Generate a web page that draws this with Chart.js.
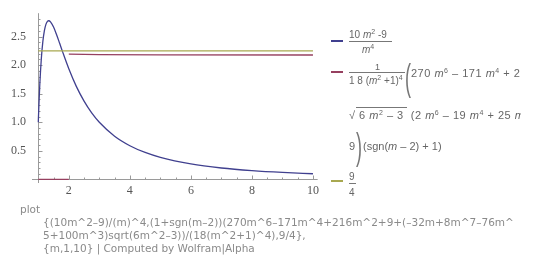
<!DOCTYPE html>
<html>
<head>
<meta charset="utf-8">
<script src="https://cdn.jsdelivr.net/npm/chart.js@4"></script>
<style>
  html, body { margin: 0; padding: 0; background: #fff; overflow: hidden; }
  body { width: 540px; height: 267px; position: relative; font-family: "Liberation Sans", Arial, sans-serif; }
  #plot { position: absolute; left: 0; top: 0; }
  #legend { position: absolute; left: 0; top: 0; width: 521px; height: 200px; overflow: hidden; }
  .sw { position: absolute; left: 331px; width: 12px; height: 2px; }
  .t { position: absolute; color: #666; white-space: nowrap; font-size: 11px; line-height: 1; }
  .t i { font-style: italic; }
  .t sup { font-size: 7px; vertical-align: 0; position: relative; top: -4px; }
  .bar { position: absolute; height: 1px; background: #777; }
  .paren { position: absolute; color: #777; font-size: 30px; line-height: 1; font-weight: 100; transform: scaleX(0.5); transform-origin: left; }
  .cap { position: absolute; color: #8a8a8a; font-family: "DejaVu Sans", sans-serif; font-size: 10.5px; white-space: nowrap; }
</style>
</head>
<body>
<canvas id="plot" width="320" height="200"></canvas>

<div id="legend">
<div class="sw" style="top:40px;background:#40408f"></div>
<div class="t" style="left:349px;top:30px;font-size:10px">10 <i>m</i><sup>2</sup> -9</div>
<div class="bar" style="left:349px;top:41px;width:43px"></div>
<div class="t" style="left:362px;top:45px;font-size:10px"><i>m</i><sup>4</sup></div>

<div class="sw" style="top:71px;background:#96405f"></div>
<div class="t" style="left:375px;top:63px;font-size:9px">1</div>
<div class="bar" style="left:349px;top:72px;width:56px"></div>
<div class="t" style="left:349px;top:76px;font-size:10px">1 8 (<i>m</i><sup>2</sup> +1)<sup>4</sup></div>
<div class="paren" style="left:405px;top:60px;font-size:36px">(</div>
<div class="t" style="left:411px;top:68px;letter-spacing:0.5px">270 <i>m</i><sup>6</sup> – 171 <i>m</i><sup>4</sup> + 216 <i>m</i><sup>2</sup> + 9</div>

<div class="t" style="left:349px;top:110px;letter-spacing:0.5px">√<span style="border-top:1px solid #777;padding-top:1px">&nbsp;6 <i>m</i><sup>2</sup> – 3&nbsp;</span> (2 <i>m</i><sup>6</sup> – 19 <i>m</i><sup>4</sup> + 25 <i>m</i><sup>2</sup> – 8)</div>
<div class="t" style="left:349px;top:141px">9</div>
<div class="paren" style="left:356px;top:129px;font-size:36px">)</div>
<div class="t" style="left:363px;top:141px">(sgn(<i>m</i> – 2) + 1)</div>

<div class="sw" style="top:180px;background:#a8a850"></div>
<div class="t" style="left:349px;top:172px;font-size:10px">9</div>
<div class="bar" style="left:349px;top:183px;width:7px"></div>
<div class="t" style="left:349px;top:188px;font-size:10px">4</div>
</div>

<div class="cap" style="left:20px;top:203px">plot</div>
<div class="cap" style="left:43px;top:216px">{(10m^2–9)/(m)^4,(1+sgn(m–2))(270m^6–171m^4+216m^2+9+(–32m+8m^7–76m^</div>
<div class="cap" style="left:43px;top:229px">5+100m^3)sqrt(6m^2–3))/(18(m^2+1)^4),9/4},</div>
<div class="cap" style="left:43px;top:242px">{m,1,10} | Computed by Wolfram|Alpha</div>

<script>
// points
const mValues = [1, 1.02, 1.05, 1.1, 1.15, 1.2, 1.25, 1.3, 1.342, 1.4, 1.5, 1.6, 1.7, 1.8, 2, 2.25, 2.5, 2.75, 3, 3.5, 4, 4.5, 5, 6, 7, 8, 9, 10];
const blueValues = [1, 1.297, 1.666, 2.117, 2.416, 2.604, 2.714, 2.766, 2.778, 2.759, 2.667, 2.533, 2.383, 2.229, 1.938, 1.624, 1.370, 1.165, 1.0, 0.756, 0.590, 0.472, 0.386, 0.271, 0.200, 0.154, 0.122, 0.099];

const redM = [1, 2, 2, 2, 3, 5, 10];
const redValues = [0, 0, null, 2.193, 2.184, 2.180, 2.178];

const yellowM = [1, 10];
const yellowValues = [2.25, 2.25];

const xTicks = [2, 4, 6, 8, 10];
const yTicks = [0.5, 1.0, 1.5, 2.0, 2.5];

const pts = (xs, ys) => xs.map((x, i) => ({ x: x, y: ys[i] }));

// axes crossing at m=1, y=0 like the original
const axesPlugin = {
    id: 'axes',
    beforeDatasetsDraw(chart) {
        const ctx = chart.ctx;
        const xs = chart.scales.x;
        const ys = chart.scales.y;
        const area = chart.chartArea;
        const x0 = Math.round(xs.getPixelForValue(1)) + 0.5;
        const y0 = Math.round(ys.getPixelForValue(0)) + 0.5;
        ctx.save();
        ctx.strokeStyle = '#9a9a9a';
        ctx.lineWidth = 1;
        ctx.beginPath();
        ctx.moveTo(area.left, y0);
        ctx.lineTo(area.right, y0);
        ctx.moveTo(x0, area.top);
        ctx.lineTo(x0, area.bottom);
        for (let v = 1.5; v <= 10.001; v += 0.5) {
            const px = Math.round(xs.getPixelForValue(v)) + 0.5;
            const len = xTicks.includes(v) ? 4 : 2;
            ctx.moveTo(px, y0);
            ctx.lineTo(px, y0 - len);
        }
        for (let k = 1; k <= 28; k++) {
            const v = k / 10;
            const py = Math.round(ys.getPixelForValue(v)) + 0.5;
            const len = k % 5 === 0 ? 4 : 2;
            ctx.moveTo(x0, py);
            ctx.lineTo(x0 + len, py);
        }
        ctx.stroke();
        ctx.restore();
    }
};

new Chart(document.getElementById('plot'), {
    type: 'line',
    data: {
        datasets: [
            {
                data: pts(yellowM, yellowValues),
                borderColor: '#a8a850',
                borderWidth: 1.3,
                pointRadius: 0
            },
            {
                data: pts(redM, redValues),
                borderColor: '#96405f',
                borderWidth: 1.3,
                pointRadius: 0,
                spanGaps: false
            },
            {
                data: pts(mValues, blueValues),
                borderColor: '#40408f',
                borderWidth: 1.3,
                pointRadius: 0,
                cubicInterpolationMode: 'monotone'
            }
        ]
    },
    plugins: [axesPlugin],
    options: {
        responsive: false,
        animation: false,
        events: [],
        layout: { padding: { top: 13, right: 2, left: 0, bottom: 0 } },
        plugins: { legend: { display: false }, tooltip: { enabled: false } },
        scales: {
            x: {
                type: 'linear',
                min: 0.794,
                max: 10.154,
                afterBuildTicks: s => { s.ticks = xTicks.map(v => ({ value: v })); },
                afterFit: s => { s.height = 17; },
                grid: { display: false, drawTicks: false },
                border: { display: false },
                ticks: {
                    padding: 1,
                    maxRotation: 0,
                    color: '#555',
                    font: { family: 'Liberation Serif', size: 12 },
                    callback: v => String(v)
                }
            },
            y: {
                min: -0.063,
                max: 2.91,
                afterBuildTicks: s => { s.ticks = yTicks.map(v => ({ value: v })); },
                afterFit: s => { s.width = 32; },
                grid: { display: false, drawTicks: false },
                border: { display: false },
                ticks: {
                    padding: 6,
                    color: '#555',
                    font: { family: 'Liberation Serif', size: 12 },
                    callback: v => v.toFixed(1)
                }
            }
        }
    }
});
</script>
</body>
</html>
